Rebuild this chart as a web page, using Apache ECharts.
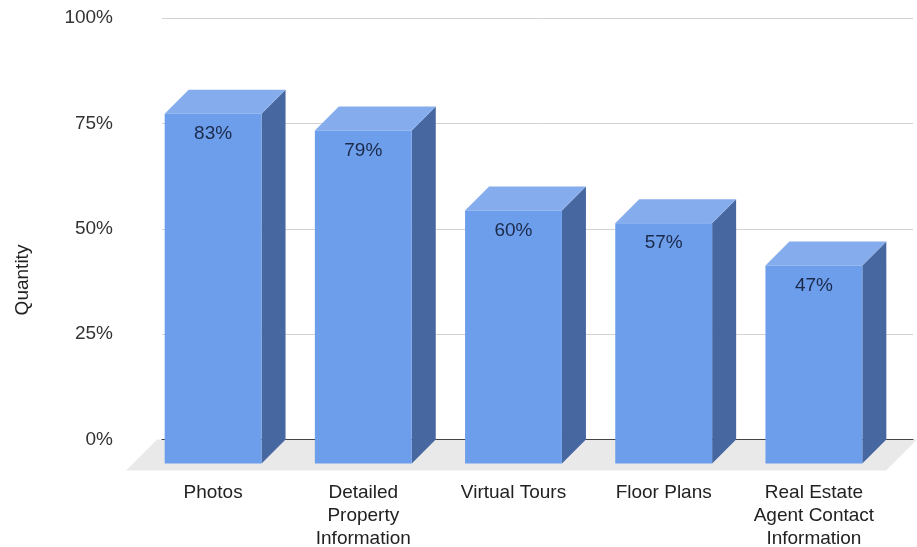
<!DOCTYPE html>
<html>
<head>
<meta charset="utf-8">
<script src="https://cdn.jsdelivr.net/npm/echarts@6/dist/echarts.min.js"></script>
<style>html,body{margin:0;padding:0;background:#fff}#c{width:917px;height:547px}</style>
</head>
<body>
<div id="c"></div>
<script>
const categories = ['Photos', 'Detailed\nProperty\nInformation', 'Virtual Tours', 'Floor Plans', 'Real Estate\nAgent Contact\nInformation'];
const values = [83, 79, 60, 57, 47];
const yTicks = [0, 25, 50, 75, 100];
const yAxisTitle = 'Quantity';

const DEPTH = 24;
const FLOOR = 31;
const FONT = 'Arial, "Liberation Sans", sans-serif';
const chart = echarts.init(document.getElementById('c'), null, {renderer: 'canvas'});

function barItem(params, api) {
  const idx = api.value(0), v = api.value(1);
  const top = api.coord([idx, v]);
  const base = api.coord([idx, 0]);
  const bw = api.size([1, 0])[0] * 0.645;
  const d = DEPTH;
  const fx = top[0] - bw / 2 - d;
  const fyTop = top[1] + d;
  const fyBot = base[1] + d;
  return {
    type: 'group',
    children: [
      {type: 'polygon', shape: {points: [[fx + bw, fyTop], [fx + bw + d, fyTop - d], [fx + bw + d, fyBot - d], [fx + bw, fyBot]]},
       style: {fill: '#46679f'}},
      {type: 'polygon', shape: {points: [[fx, fyTop], [fx + bw, fyTop], [fx + bw + d, fyTop - d], [fx + d, fyTop - d]]},
       style: {fill: '#85acec'}},
      {type: 'rect', shape: {x: fx, y: fyTop, width: bw, height: fyBot - fyTop},
       style: {fill: '#6d9eeb'}},
      {type: 'text', x: fx + bw / 2, y: fyTop + 20,
       style: {text: v + '%', fill: '#1b2a4a', font: '19px ' + FONT, align: 'center', verticalAlign: 'middle'}}
    ]
  };
}

function floorItem(params, api) {
  const cs = params.coordSys;
  const y0 = api.coord([0, 0])[1];
  const l = cs.x - 5, r = cs.x + cs.width + 4;
  return {
    type: 'polygon',
    shape: {points: [[l, y0], [r, y0], [r - FLOOR, y0 + FLOOR], [l - FLOOR, y0 + FLOOR]]},
    style: {fill: '#e9e9e9'}
  };
}

chart.setOption({
  animation: false,
  grid: {left: 162, right: 4, top: 18, bottom: 107.5, containLabel: false, outerBoundsMode: 'none'},
  xAxis: {
    type: 'category',
    data: categories,
    axisLine: {show: true, lineStyle: {color: '#444', width: 1}},
    axisTick: {show: false},
    splitLine: {show: false},
    axisLabel: {
      interval: 0, margin: 42, padding: [0, 48, 0, 0],
      color: '#222', fontSize: 19, lineHeight: 23,
      fontFamily: FONT, align: 'center', hideOverlap: false
    }
  },
  yAxis: {
    type: 'value', min: yTicks[0], max: yTicks[yTicks.length - 1], interval: 25,
    axisLine: {show: false}, axisTick: {show: false},
    splitLine: {lineStyle: {color: '#d3d3d3', width: 1}},
    axisLabel: {formatter: '{value}%', margin: 49, color: '#333', fontSize: 19, fontFamily: FONT}
  },
  graphic: [{
    type: 'text', x: 23, y: 280, rotation: Math.PI / 2,
    style: {text: yAxisTitle, fill: '#222', font: '19px ' + FONT, align: 'center', verticalAlign: 'middle'}
  }],
  series: [
    {type: 'custom', z: -1, renderItem: floorItem, data: [[0, 0]], silent: true},
    {type: 'custom', z: 2, renderItem: barItem, data: values.map((v, i) => [i, v])}
  ]
});
</script>
</body>
</html>
